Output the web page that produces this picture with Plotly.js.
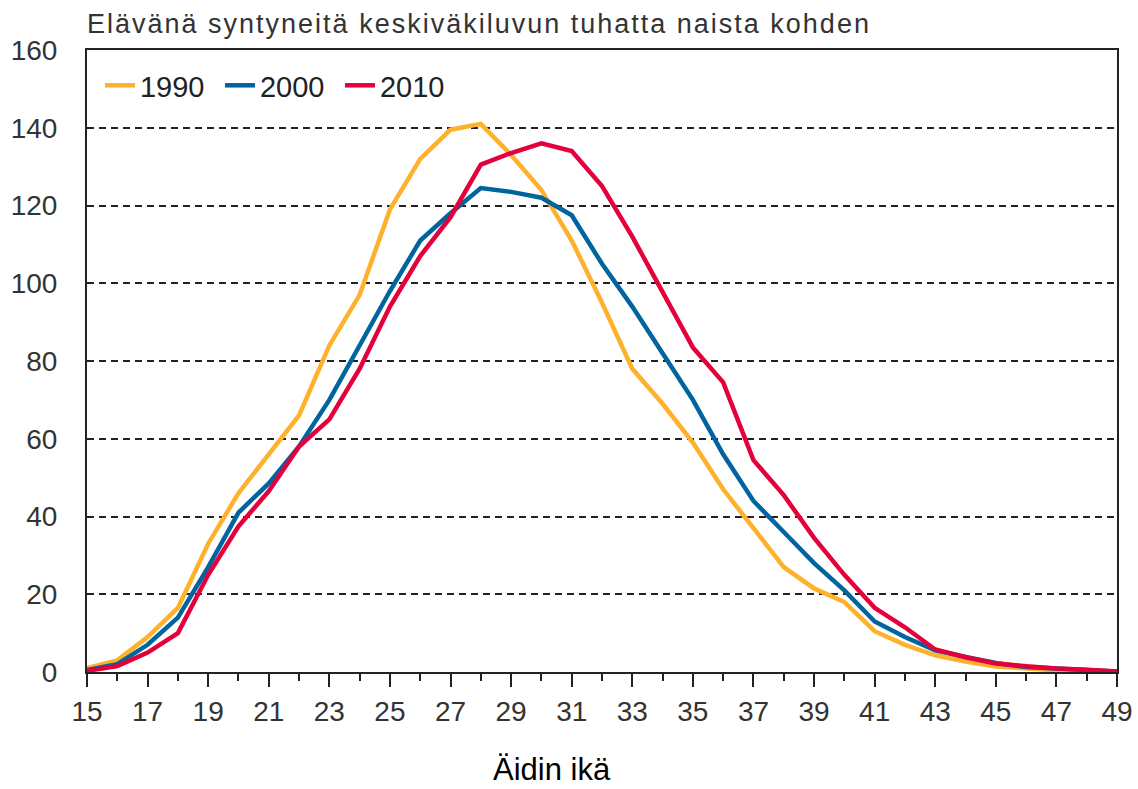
<!DOCTYPE html>
<html>
<head>
<meta charset="utf-8">
<script src="https://cdn.plot.ly/plotly-3.0.1.min.js"></script>
<style>
html,body{margin:0;padding:0;background:#fff;}
#chart{width:1138px;height:789px;}
.gtitle{letter-spacing:2px;}
</style>
</head>
<body>
<div id="chart"></div>
<script>
const ages = [15,16,17,18,19,20,21,22,23,24,25,26,27,28,29,30,31,32,33,34,35,36,37,38,39,40,41,42,43,44,45,46,47,48,49];
const y1990 = [1,3,9,16.5,33,46,56,66,84,97,119,132,139.5,141,133,124,111,95,78,69,59,47,37,27,21.5,18,10.5,7,4.3,2.7,1.4,0.8,0.4,0.2,0.1];
const y2000 = [0.5,2,7,14,27,41,48.5,58,70,84,98,111,118,124.5,123.5,122,117.5,105,94,82,70,56,44,36,28,21,13,9,5.6,3.9,2.3,1.3,0.8,0.5,0.1];
const y2010 = [0.3,1.5,5,10,25,37.5,46.5,58,65,78,94,107,117,130.5,133.5,136,134,125,112,98,83.5,74.5,54.5,45.5,34.5,25,16.5,11.5,5.8,3.8,2.2,1.5,0.9,0.6,0.1];
const seriesNames = ["1990","2000","2010"];
const seriesColors = ["#FDB12C","#00649F","#E4003A"];
const titleText = "Elävänä syntyneitä keskiväkiluvun tuhatta naista kohden";
const xTitle = "Äidin ikä";

const font = "Liberation Sans, Arial, sans-serif";
const data = [y1990, y2000, y2010].map((ys, i) => ({
  x: ages, y: ys, type: "scatter", mode: "lines", name: seriesNames[i],
  line: {color: seriesColors[i], width: 4.5}
}));

const layout = {
  width: 1138, height: 789,
  paper_bgcolor: "#fff", plot_bgcolor: "#fff",
  margin: {l: 87, r: 21, t: 50, b: 117},
  font: {family: font, size: 28, color: "#333"},
  showlegend: true,
  legend: {orientation: "h", x: 0.0126, y: 0.984, xanchor: "left", yanchor: "top",
           font: {family: font, size: 29, color: "#222"}, bgcolor: "rgba(0,0,0,0)",
           itemwidth: 30, entrywidth: 75, entrywidthmode: "pixels"},
  title: {text: titleText, xref: "paper", x: 0, xanchor: "left",
          yref: "container", y: 1 - 24/789, yanchor: "middle",
          font: {family: font, size: 27, color: "#333"}},
  xaxis: {
    range: [15, 49], tickmode: "linear", tick0: 15, dtick: 2,
    ticks: "outside", ticklen: 13, tickwidth: 2, tickcolor: "#222",
    minor: {dtick: 1, tick0: 15, ticks: "outside", ticklen: 7, tickwidth: 2, tickcolor: "#222", showgrid: false},
    showline: true, linecolor: "#222", linewidth: 2, mirror: true,
    showgrid: false, zeroline: false,
    tickfont: {family: font, size: 28, color: "#333"}
  },
  yaxis: {
    range: [0, 160], tickmode: "linear", tick0: 0, dtick: 20,
    ticks: "", ticklabelstandoff: 22,
    showline: true, linecolor: "#222", linewidth: 2, mirror: true,
    showgrid: true, gridcolor: "#222", gridwidth: 2, griddash: "7px,5px",
    zeroline: false,
    tickfont: {family: font, size: 28, color: "#333"}
  },
  annotations: [{
    text: xTitle, showarrow: false,
    xref: "paper", x: (552 - 87) / 1030, xanchor: "center",
    yref: "paper", y: (672 - 769) / 622, yanchor: "middle",
    font: {family: font, size: 31, color: "#000"}
  }]
};

Plotly.newPlot("chart", data, layout, {displayModeBar: false, staticPlot: true});
</script>
</body>
</html>
